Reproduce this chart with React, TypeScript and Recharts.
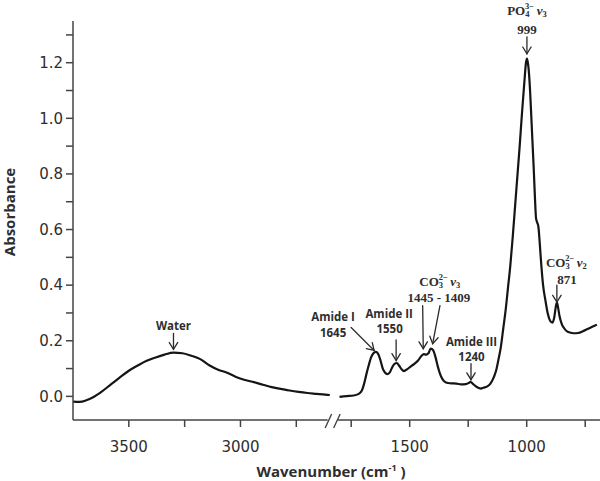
import React from 'react';
import { LineChart, Line, XAxis, YAxis, ReferenceDot, Label } from 'recharts';

// ---------- data ----------
const leftWavenumbers = [3750, 3720, 3690, 3660, 3620, 3580, 3540, 3500, 3460, 3420, 3380, 3340, 3300, 3260, 3220, 3180, 3140, 3100, 3060, 3020, 2980, 2940, 2900, 2860, 2820, 2780, 2740, 2700, 2660, 2620, 2600];
const leftAbsorbance = [-0.019, -0.02, -0.014, -0.003, 0.018, 0.043, 0.068, 0.092, 0.111, 0.128, 0.14, 0.15, 0.157, 0.155, 0.146, 0.134, 0.112, 0.096, 0.085, 0.07, 0.059, 0.051, 0.042, 0.033, 0.027, 0.021, 0.016, 0.012, 0.009, 0.006, 0.005];

const rightWavenumbers = [1800, 1770, 1740, 1720, 1705, 1695, 1685, 1675, 1665, 1655, 1645, 1635, 1625, 1615, 1605, 1595, 1585, 1575, 1565, 1555, 1545, 1535, 1525, 1510, 1495, 1480, 1465, 1450, 1440, 1430, 1420, 1410, 1400, 1390, 1380, 1370, 1360, 1345, 1325, 1300, 1280, 1260, 1248, 1240, 1230, 1220, 1205, 1195, 1185, 1170, 1155, 1140, 1130, 1120, 1110, 1100, 1090, 1080, 1070, 1060, 1050, 1040, 1030, 1020, 1010, 1003, 999, 995, 990, 985, 980, 975, 970, 965, 960, 955, 950, 945, 940, 930, 920, 910, 900, 890, 882, 876, 871, 866, 860, 850, 840, 825, 800, 780, 760, 740, 720, 700];
const rightAbsorbance = [-0.002, 0.001, 0.003, 0.008, 0.02, 0.045, 0.08, 0.112, 0.14, 0.155, 0.16, 0.153, 0.13, 0.1, 0.085, 0.08, 0.086, 0.104, 0.117, 0.12, 0.11, 0.098, 0.091, 0.098, 0.108, 0.117, 0.128, 0.145, 0.152, 0.15, 0.155, 0.172, 0.166, 0.142, 0.108, 0.08, 0.062, 0.05, 0.047, 0.046, 0.043, 0.044, 0.048, 0.052, 0.045, 0.038, 0.03, 0.028, 0.031, 0.035, 0.046, 0.07, 0.095, 0.135, 0.18, 0.245, 0.31, 0.39, 0.47, 0.57, 0.68, 0.79, 0.9, 1.02, 1.13, 1.2, 1.215, 1.2, 1.16, 1.09, 1.0, 0.91, 0.82, 0.72, 0.64, 0.625, 0.61, 0.56, 0.5, 0.4, 0.345, 0.298, 0.272, 0.265, 0.285, 0.32, 0.338, 0.32, 0.29, 0.26, 0.245, 0.232, 0.227, 0.228, 0.234, 0.242, 0.25, 0.258];

const xTickWavenumbers = [3500, 3250, 3000, 2750, 1750, 1500, 1250, 1000, 750];
const xTickLabeled = [3500, 3000, 1500, 1000];
const yTicks = [0, 0.1, 0.2, 0.3, 0.4, 0.5, 0.6, 0.7, 0.8, 0.9, 1.0, 1.1, 1.2, 1.3];

// annotation tips (wavenumber, absorbance of the arrow tip)
const plainLabels = [
  { id: 'water', lines: ['Water'], w: 3300, a: 0.169 },
  { id: 'amide1', lines: ['Amide I', '1645'], w: 1652, a: 0.165 },
  { id: 'amide2', lines: ['Amide II', '1550'], w: 1558, a: 0.129 },
  { id: 'amide3', lines: ['Amide III', '1240'], w: 1238, a: 0.06 },
];
const chemLabels = [
  { id: 'co3v3', base: 'CO', sub: '3', sup: '2\u2212', mode: '\u03bd', modeSub: '3', value: '1445 - 1409', w: 1442, a: 0.1715 },
  { id: 'po4v3', base: 'PO', sub: '4', sup: '3\u2212', mode: '\u03bd', modeSub: '3', value: '999', w: 999, a: 1.232 },
  { id: 'co3v2', base: 'CO', sub: '3', sup: '2\u2212', mode: '\u03bd', modeSub: '2', value: '871', w: 871, a: 0.339 },
];

// ---------- broken axis transform ----------
const AXIS_HIGH = 3750;
const BREAK_HIGH = 2600;
const BREAK_LOW = 1800;
const K_LEFT = 0.2233;
const K_RIGHT = 0.234;
const GAP = 9.7;
const toPos = (w: number) =>
  w >= BREAK_HIGH
    ? (AXIS_HIGH - w) * K_LEFT
    : (AXIS_HIGH - BREAK_HIGH) * K_LEFT + GAP + (BREAK_LOW - w) * K_RIGHT;

const leftData = leftWavenumbers.map((w, i) => ({ pos: toPos(w), a: leftAbsorbance[i] }));
const rightData = rightWavenumbers.map((w, i) => ({ pos: toPos(w), a: rightAbsorbance[i] }));
const xTickPositions = xTickWavenumbers.map(toPos);

const SANS = "'Open Sans', sans-serif";
const SERIF = "'Liberation Serif', serif";
const TXT = '#2e2e2e';
const AXIS = '#444';

const Arrow = ({ x1, y1, x2, y2 }: { x1: number; y1: number; x2: number; y2: number }) => {
  const ang = Math.atan2(y2 - y1, x2 - x1);
  const L = 8;
  const s = 0.55;
  const ax = x2 - L * Math.cos(ang - s);
  const ay = y2 - L * Math.sin(ang - s);
  const bx = x2 - L * Math.cos(ang + s);
  const by = y2 - L * Math.sin(ang + s);
  return (
    <g stroke="#2a2a2a" strokeWidth={1.3} fill="none" strokeLinecap="round">
      <line x1={x1} y1={y1} x2={x2} y2={y2} />
      <polyline points={`${ax},${ay} ${x2},${y2} ${bx},${by}`} />
    </g>
  );
};

const plainLayout: Record<string, { arrow: [number, number]; text: [number, number][] }> = {
  water: { arrow: [0, -16], text: [[0, -19]] },
  amide1: { arrow: [-23, -23], text: [[-41, -29], [-41, -13.5]] },
  amide2: { arrow: [0, -20.5], text: [[-7, -42.5], [-6.5, -27.5]] },
  amide3: { arrow: [0, -16], text: [[0.5, -33.5], [0.5, -18.5]] },
};

const chemLayout: Record<string, { arrows: [number, number, number, number][]; name: [number, number]; value: [number, number] }> = {
  co3v3: { arrows: [[-0.6, -43, 0, 0], [16.7, -43, 9.4, -5]], name: [16.5, -63], value: [15.7, -46.5] },
  po4v3: { arrows: [[0, -17, 0, 0]], name: [0, -39], value: [0, -19.5] },
  co3v2: { arrows: [[0, -17, 0, 0]], name: [9.5, -35.5], value: [10, -18.5] },
};

const PlainShape = (id: string, lines: string[]) => (props: any) => {
  const { cx, cy } = props;
  const L = plainLayout[id];
  return (
    <g>
      <Arrow x1={cx + L.arrow[0]} y1={cy + L.arrow[1]} x2={cx} y2={cy} />
      {lines.map((t, i) => (
        <text key={i} x={cx + L.text[i][0]} y={cy + L.text[i][1]} textAnchor="middle" fontFamily={SANS} fontWeight={700} fontSize={11.5} fill={TXT}>
          {t}
        </text>
      ))}
    </g>
  );
};

const ChemShape = (c: typeof chemLabels[number]) => (props: any) => {
  const { cx, cy } = props;
  const L = chemLayout[c.id];
  return (
    <g>
      {L.arrows.map((a, i) => (
        <Arrow key={i} x1={cx + a[0]} y1={cy + a[1]} x2={cx + a[2]} y2={cy + a[3]} />
      ))}
      <text x={cx + L.name[0]} y={cy + L.name[1]} textAnchor="middle" fontFamily={SERIF} fontWeight={700} fontSize={13} fill={TXT}>
        {c.base}
        <tspan fontSize={8.5} dy={2.5}>{c.sub}</tspan>
        <tspan fontSize={8.5} dx={-4.4} dy={-8.5}>{c.sup}</tspan>
        <tspan dy={6} dx={2.5} fontStyle="italic">{c.mode}</tspan>
        <tspan fontSize={8.5} dy={2.5}>{c.modeSub}</tspan>
      </text>
      <text x={cx + L.value[0]} y={cy + L.value[1]} textAnchor="middle" fontFamily={SERIF} fontWeight={700} fontSize={13} fill={TXT}>
        {c.value}
      </text>
    </g>
  );
};

const BreakShape = (props: any) => {
  const { cx, cy } = props;
  const c = cx - 2;
  return (
    <g>
      <rect x={c - 5} y={cy - 2} width={10} height={4} fill="#fff" />
      <g stroke={AXIS} strokeWidth={1.4}>
        <line x1={c - 7.5} y1={cy + 8} x2={c - 1} y2={cy - 6} />
        <line x1={c + 1} y1={cy + 8} x2={c + 7.5} y2={cy - 6} />
      </g>
    </g>
  );
};

const xTickFormatter = (v: number) => {
  const i = xTickPositions.findIndex((p) => Math.abs(p - v) < 0.01);
  if (i < 0) return '';
  const w = xTickWavenumbers[i];
  return xTickLabeled.includes(w) ? String(w) : '';
};

const yTickFormatter = (v: number) => (Math.round(v * 10) % 2 === 0 ? v.toFixed(1) : '');

const YTitle = () => (
  <text x={15.4} y={212} transform="rotate(-90 15.4 212)" textAnchor="middle" fontFamily={SANS} fontWeight={700} fontSize={15} fill={TXT}>
    Absorbance
  </text>
);

const XTitle = () => (
  <text x={331} y={476.5} textAnchor="middle" fontFamily={SANS} fontWeight={700} fontSize={15} fill={TXT}>
    Wavenumber (cm
    <tspan fontSize={9} dy={-6}>-1</tspan>
    <tspan dy={6}> )</tspan>
  </text>
);

export default function App() {
  const breakPos = (toPos(BREAK_HIGH) + toPos(BREAK_LOW)) / 2;
  return (
    <div style={{ position: 'absolute', left: 0, top: 0, width: 600, height: 481, background: '#fff' }}>
      <LineChart width={600} height={481} margin={{ top: 21, right: 0, bottom: 20, left: 13 }}>
        <XAxis
          type="number"
          dataKey="pos"
          domain={[0, 527]}
          ticks={xTickPositions}
          tickFormatter={xTickFormatter}
          allowDataOverflow
          height={41}
          tickSize={7}
          tickMargin={14}
          stroke={AXIS}
          strokeWidth={1.5}
          tick={{ fill: TXT, fontFamily: "'DejaVu Sans', sans-serif", fontSize: 15 }}
          label={<Label content={<XTitle />} />}
        />
        <YAxis
          type="number"
          domain={[-0.085, 1.35]}
          ticks={yTicks}
          tickFormatter={yTickFormatter}
          allowDataOverflow
          width={60}
          tickSize={7}
          tickMargin={3}
          stroke={AXIS}
          strokeWidth={1.5}
          tick={{ fill: TXT, fontFamily: "'DejaVu Sans', sans-serif", fontSize: 15 }}
          label={<Label content={<YTitle />} />}
        />
        <Line data={leftData} dataKey="a" type="monotone" stroke="#151515" strokeWidth={2.2} dot={false} activeDot={false} isAnimationActive={false} />
        <Line data={rightData} dataKey="a" type="monotone" stroke="#151515" strokeWidth={2.2} dot={false} activeDot={false} isAnimationActive={false} />
        {plainLabels.map((p) => (
          <ReferenceDot key={p.id} x={toPos(p.w)} y={p.a} r={0} ifOverflow="visible" shape={PlainShape(p.id, p.lines)} />
        ))}
        {chemLabels.map((c) => (
          <ReferenceDot key={c.id} x={toPos(c.w)} y={c.a} r={0} ifOverflow="visible" shape={ChemShape(c)} />
        ))}
        <ReferenceDot x={breakPos} y={-0.085} r={0} ifOverflow="visible" shape={BreakShape} />
      </LineChart>
    </div>
  );
}
